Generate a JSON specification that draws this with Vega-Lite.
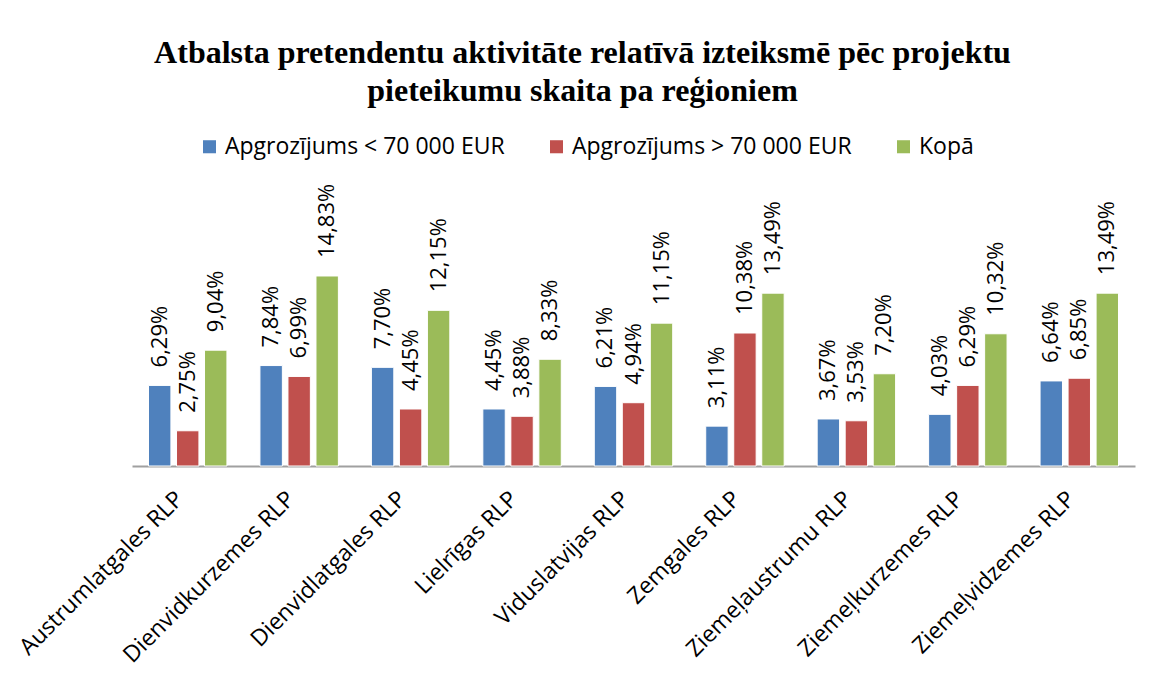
{
  "$schema": "https://vega.github.io/schema/vega-lite/v6.json",
  "autosize": {"type": "none"},
  "width": 1003,
  "height": 205,
  "padding": {"left": 132, "top": 261, "right": 22, "bottom": 213},
  "background": "white",
  "title": {
    "text": ["Atbalsta pretendentu aktivitāte relatīvā izteiksmē pēc projektu", "pieteikumu skaita pa reģioniem"],
    "font": "Liberation Serif",
    "fontSize": 32,
    "fontWeight": "bold",
    "color": "black",
    "lineHeight": 38,
    "anchor": "middle",
    "frame": "group",
    "orient": "top",
    "offset": 27,
    "dx": -51
  },
  "data": {
    "values": [
      {"region": "Austrumlatgales RLP", "series": "Apgrozījums < 70 000 EUR", "value": 0.0629},
      {"region": "Austrumlatgales RLP", "series": "Apgrozījums > 70 000 EUR", "value": 0.0275},
      {"region": "Austrumlatgales RLP", "series": "Kopā", "value": 0.0904},
      {"region": "Dienvidkurzemes RLP", "series": "Apgrozījums < 70 000 EUR", "value": 0.0784},
      {"region": "Dienvidkurzemes RLP", "series": "Apgrozījums > 70 000 EUR", "value": 0.0699},
      {"region": "Dienvidkurzemes RLP", "series": "Kopā", "value": 0.1483},
      {"region": "Dienvidlatgales RLP", "series": "Apgrozījums < 70 000 EUR", "value": 0.0770},
      {"region": "Dienvidlatgales RLP", "series": "Apgrozījums > 70 000 EUR", "value": 0.0445},
      {"region": "Dienvidlatgales RLP", "series": "Kopā", "value": 0.1215},
      {"region": "Lielrīgas RLP", "series": "Apgrozījums < 70 000 EUR", "value": 0.0445},
      {"region": "Lielrīgas RLP", "series": "Apgrozījums > 70 000 EUR", "value": 0.0388},
      {"region": "Lielrīgas RLP", "series": "Kopā", "value": 0.0833},
      {"region": "Viduslatvijas RLP", "series": "Apgrozījums < 70 000 EUR", "value": 0.0621},
      {"region": "Viduslatvijas RLP", "series": "Apgrozījums > 70 000 EUR", "value": 0.0494},
      {"region": "Viduslatvijas RLP", "series": "Kopā", "value": 0.1115},
      {"region": "Zemgales RLP", "series": "Apgrozījums < 70 000 EUR", "value": 0.0311},
      {"region": "Zemgales RLP", "series": "Apgrozījums > 70 000 EUR", "value": 0.1038},
      {"region": "Zemgales RLP", "series": "Kopā", "value": 0.1349},
      {"region": "Ziemeļaustrumu RLP", "series": "Apgrozījums < 70 000 EUR", "value": 0.0367},
      {"region": "Ziemeļaustrumu RLP", "series": "Apgrozījums > 70 000 EUR", "value": 0.0353},
      {"region": "Ziemeļaustrumu RLP", "series": "Kopā", "value": 0.0720},
      {"region": "Ziemeļkurzemes RLP", "series": "Apgrozījums < 70 000 EUR", "value": 0.0403},
      {"region": "Ziemeļkurzemes RLP", "series": "Apgrozījums > 70 000 EUR", "value": 0.0629},
      {"region": "Ziemeļkurzemes RLP", "series": "Kopā", "value": 0.1032},
      {"region": "Ziemeļvidzemes RLP", "series": "Apgrozījums < 70 000 EUR", "value": 0.0664},
      {"region": "Ziemeļvidzemes RLP", "series": "Apgrozījums > 70 000 EUR", "value": 0.0685},
      {"region": "Ziemeļvidzemes RLP", "series": "Kopā", "value": 0.1349}
    ]
  },
  "encoding": {
    "x": {
      "field": "region", "type": "nominal", "sort": null,
      "scale": {"paddingInner": 0.246, "paddingOuter": 0.123},
      "axis": {
        "title": null,
        "labelAngle": -45,
        "labelAlign": "right",
        "labelBaseline": "middle",
        "labelFont": "Open Sans",
        "labelFontSize": 23,
        "labelColor": "black",
        "labelPadding": 29,
        "labelOffset": -8,
        "labelLimit": 400,
        "ticks": false,
        "domainColor": "#a0a0a0",
        "domainWidth": 2
      }
    },
    "xOffset": {"field": "series", "type": "nominal", "scale": {"paddingInner": 0.2, "paddingOuter": 0.1}},
    "y": {
      "field": "value", "type": "quantitative",
      "scale": {"domain": [0, 0.16]},
      "axis": null
    }
  },
  "layer": [
    {
      "mark": {"type": "bar", "stroke": "white", "strokeWidth": 1},
      "encoding": {
        "color": {
          "field": "series", "type": "nominal",
          "scale": {"domain": ["Apgrozījums < 70 000 EUR", "Apgrozījums > 70 000 EUR", "Kopā"], "range": ["#4F81BD", "#C0504D", "#9BBB59"]},
          "legend": {
            "title": null,
            "orient": "none",
            "direction": "horizontal",
            "legendX": 66,
            "legendY": -126,
            "symbolType": "square",
            "symbolSize": 170,
            "symbolStrokeWidth": 0,
            "labelFont": "Open Sans",
            "labelFontSize": 23,
            "labelColor": "black",
            "labelLimit": 400,
            "columnPadding": 40,
            "labelOffset": 4
          }
        }
      }
    },
    {
      "mark": {"type": "text", "angle": -90, "align": "left", "baseline": "middle", "dx": 18, "font": "Open Sans", "fontSize": 22, "color": "black"},
      "encoding": {
        "text": {"field": "value", "type": "quantitative", "format": ".2%"}
      }
    }
  ],
  "config": {
    "view": {"stroke": null},
    "locale": {"number": {"decimal": ",", "thousands": " ", "grouping": [3], "currency": ["", " €"]}}
  }
}
